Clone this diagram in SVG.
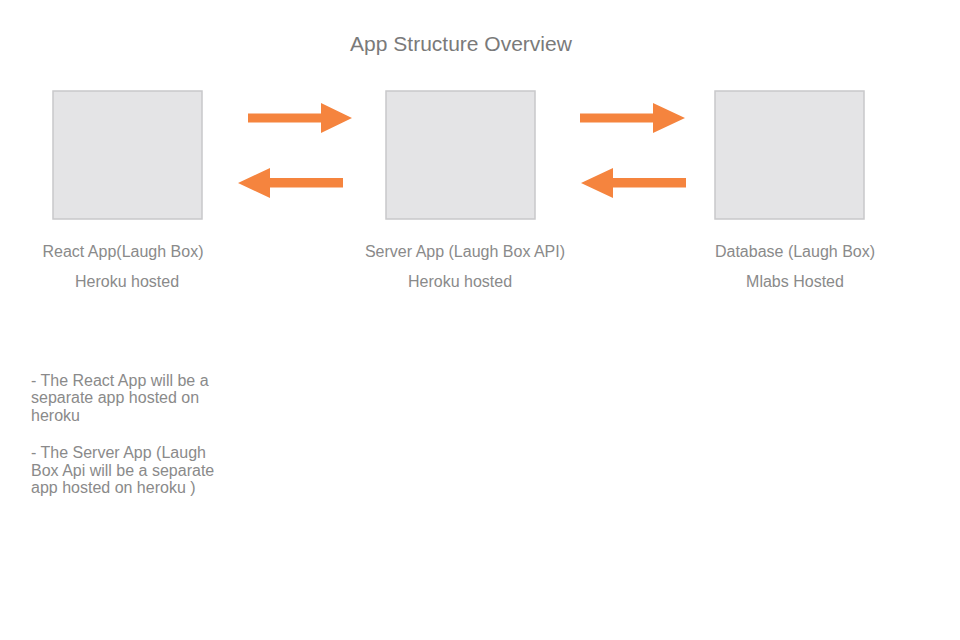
<svg xmlns="http://www.w3.org/2000/svg" width="960" height="640" viewBox="0 0 960 640">
<style>
.box{fill:#e4e4e6;stroke:#c8c8ca;stroke-width:1.5}
.lbl{font-family:"Liberation Sans",Arial,sans-serif;font-size:16px;fill:#8a8a8a;text-anchor:middle}
.note{font-family:"Liberation Sans",Arial,sans-serif;font-size:16px;fill:#8a8a8a}
.arr{fill:#f5843e}
</style>
<rect width="960" height="640" fill="#fff"/>
<text x="461" y="51" style="font-family:'Liberation Sans',Arial,sans-serif;font-size:21px;fill:#7a7a7a;text-anchor:middle">App Structure Overview</text>
<g id="react">
<rect class="box" x="53" y="91" width="149" height="128"/>
<text class="lbl" x="123" y="257">React App(Laugh Box)</text>
<text class="lbl" x="127" y="287">Heroku hosted</text>
</g>
<g id="server">
<rect class="box" x="386" y="91" width="149" height="128"/>
<text class="lbl" x="465" y="257">Server App (Laugh Box API)</text>
<text class="lbl" x="460" y="287">Heroku hosted</text>
</g>
<g id="database">
<rect class="box" x="715" y="91" width="149" height="128"/>
<text class="lbl" x="795" y="257">Database (Laugh Box)</text>
<text class="lbl" x="795" y="287">Mlabs Hosted</text>
</g>
<g id="connectors">
<path class="arr" d="M248,113.5 H321 V103 L352,118 L321,133 V122.5 H248 Z"/>
<path class="arr" d="M343,178 H270 V168 L238,183 L270,198 V187.5 H343 Z"/>
<path class="arr" d="M580,113.5 H653 V103 L685,118 L653,133 V122.5 H580 Z"/>
<path class="arr" d="M686,178 H613 V168 L581,183 L613,198 V187.5 H686 Z"/>
</g>
<g id="notes">
<text class="note" x="31" y="386">- The React App will be a</text>
<text class="note" x="31" y="403">separate app hosted on</text>
<text class="note" x="31" y="421">heroku</text>
<text class="note" x="31" y="458">- The Server App (Laugh</text>
<text class="note" x="31" y="476">Box Api will be a separate</text>
<text class="note" x="31" y="493">app hosted on heroku )</text>
</g>
</svg>
